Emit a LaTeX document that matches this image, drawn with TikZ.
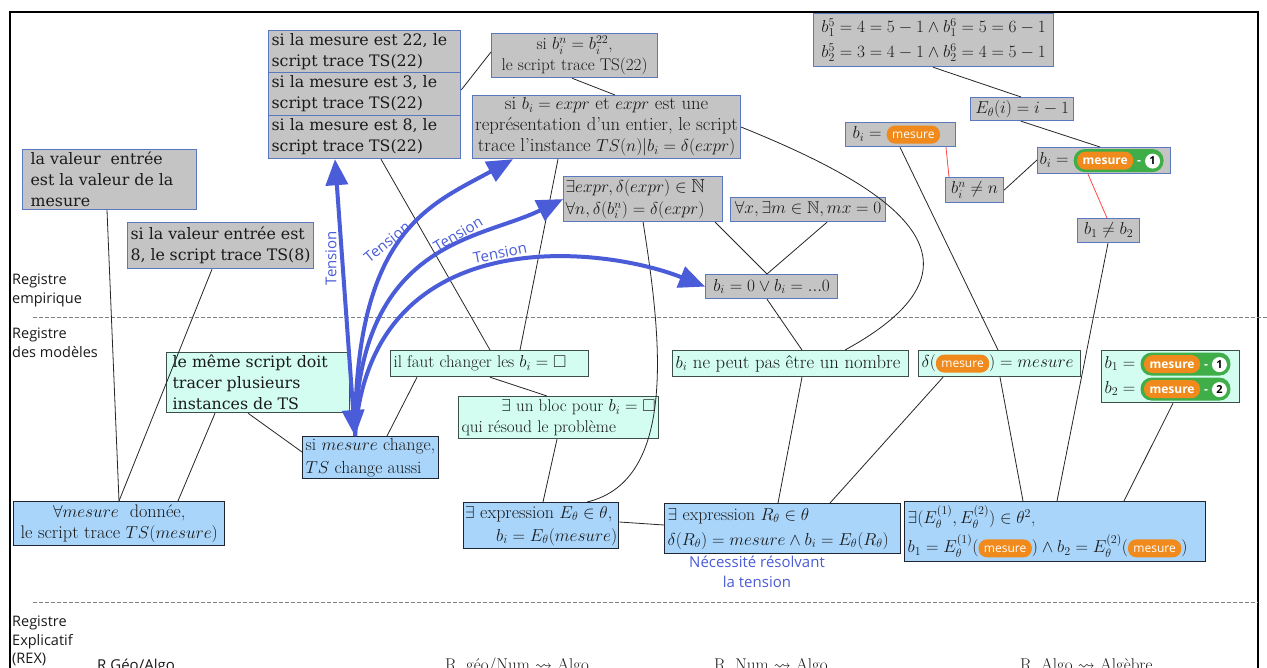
\documentclass[tikz,border=0pt]{standalone}
\usepackage{amsmath,amssymb}
\usepackage{fontspec}
\usetikzlibrary{arrows.meta,calc}
\newfontfamily\dvserif{DejaVu Serif}
\newfontfamily\osans{Open Sans}
\definecolor{greyfill}{HTML}{C4C4C4}
\definecolor{greyborder}{HTML}{5A78C0}
\definecolor{mintfill}{HTML}{D2FDF0}
\definecolor{mintborder}{HTML}{3E4E4A}
\definecolor{bluefill}{HTML}{A9D5FB}
\definecolor{blueborder}{HTML}{1E2530}
\definecolor{tblue}{HTML}{4A5CD8}
\definecolor{pillorange}{HTML}{F08A1C}
\definecolor{pillgreen}{HTML}{3FAE49}
\definecolor{redline}{HTML}{FF4848}
\definecolor{labtext}{HTML}{1A1A1A}
\newcommand\lmtext{\fontsize{17}{21}\selectfont}
\newcommand\lmbig{\fontsize{18.7}{21}\selectfont}
\newcommand\dvtext{\dvserif\fontsize{15.8}{21}\selectfont}
\newcommand\sanslab{\osans\fontsize{14.5}{18.5}\selectfont}
\newcommand\mes{\tikz[baseline=(plnode.base)]\node[fill=pillorange, draw=none, text=white, rounded corners=8.5pt, inner xsep=5.5pt, inner ysep=0pt, minimum height=18pt, minimum width=0pt, text width=, align=center, anchor=base, font=\osans\fontsize{12}{14}\selectfont, text height=8.5pt, text depth=0pt] (plnode) {mesure};}
\newcommand\dig[1]{\tikz[baseline=(dgnode.base)]\node[circle, fill=white, draw=none, text=black, inner sep=0pt, minimum size=15pt, minimum height=15pt, minimum width=15pt, text width=, align=center, anchor=base, rounded corners=0pt, font=\osans\bfseries\fontsize{11}{12}\selectfont, text height=7.5pt, text depth=0pt] (dgnode) {#1};}
\newcommand\mesm[1]{\tikz[baseline=(gpnode.base)]\node[fill=pillgreen, draw=none, rounded corners=11pt, inner xsep=3.5pt, inner ysep=2.5pt, minimum height=0pt, minimum width=0pt, text width=, align=center, anchor=base, text=white, font=\osans\bfseries\fontsize{12}{14}\selectfont] (gpnode) {\mes\hspace{4pt}-\hspace{4pt}\dig{#1}};}
\begin{document}
\begin{tikzpicture}[x=1pt,y=-1pt,
  box/.style={draw, line width=1.2pt, anchor=north west, inner xsep=3pt, inner ysep=1pt, font=\lmtext, text=labtext, align=flush left},
  gbox/.style={box, fill=greyfill, draw=greyborder},
  mbox/.style={box, fill=mintfill, draw=mintborder},
  bbox/.style={box, fill=bluefill, draw=blueborder, line width=1.4pt},
  conn/.style={draw=black!85, line width=0.8pt},
  redconn/.style={draw=redline, line width=0.8pt},
  tarrow/.style={draw=tblue, line width=4pt, -{Triangle[length=26pt,width=22pt]}},
  tarrowboth/.style={draw=tblue, line width=4pt, {Triangle[length=26pt,width=22pt]}-{Triangle[length=26pt,width=22pt]}},
  tlabel/.style={text=tblue, font=\osans\fontsize{15}{17}\selectfont, inner sep=0pt},
  reglabel/.style={anchor=north west, align=flush left, text=labtext, font=\sanslab, inner sep=0pt}
]
\useasboundingbox (0,0) rectangle (1267,667);
\clip (0,0) rectangle (1267,667);
\fill[white] (0,0) rectangle (1267,667);
% frame
\draw[line width=2.6pt, black] (10,700) -- (10,12) -- (1258,12) -- (1258,700);
% register separators
\draw[gray, line width=0.8pt, dash pattern=on 4pt off 2pt] (33,317) -- (1267,317);
\draw[gray, line width=0.8pt, dash pattern=on 4pt off 2pt] (33,602) -- (1258,602);
% register labels
\node[reglabel] (r1) at (12,274) {Registre\\empirique};
\node[reglabel] (r2) at (12,328) {Registre\\des modèles};
\node[reglabel] (r3) at (12,616) {Registre\\Explicatif\\(REX)};
\node[anchor=base west, inner sep=0pt, text=labtext, font=\osans\fontsize{15}{18}\selectfont] (rg1) at (97,670) {R Géo/Algo};
\node[anchor=base west, inner sep=0pt, text=labtext, font=\lmtext] (rg2) at (445,670) {R. géo/Num $\rightsquigarrow$ Algo};
\node[anchor=base west, inner sep=0pt, text=labtext, font=\lmtext] (rg3) at (714,670) {R. Num $\rightsquigarrow$ Algo};
\node[anchor=base west, inner sep=0pt, text=labtext, font=\lmtext] (rg4) at (1020,670) {R. Algo $\rightsquigarrow$ Algèbre};

% ---------- empirical register (grey) ----------
\node[gbox, font=\dvtext, minimum width=192pt, minimum height=43pt, text width=186pt] (G1a) at (268,30) {si la mesure est 22, le\\script trace TS(22)};
\node[gbox, font=\dvtext, minimum width=192pt, minimum height=43pt, text width=186pt] (G1b) at (268,72) {si la mesure est 3, le\\script trace TS(22)};
\node[gbox, font=\dvtext, minimum width=192pt, minimum height=43pt, text width=186pt] (G1c) at (268,115) {si la mesure est 8, le\\script trace TS(22)};
\node[gbox, align=flush center, minimum width=166pt, minimum height=44pt, text width=160pt] (G2) at (491,33) {si $b_i^n=b_i^{22}$,\\le script trace TS(22)};
\node[gbox, align=flush center, font=\lmbig, inner xsep=1.5pt, minimum width=268pt, minimum height=63pt, text width=265pt] (G3) at (472,95) {si $b_i=expr$ et $expr$ est une\\représentation d'un entier, le script\\trace l'instance $TS(n)|b_i=\delta(expr)$};
\node[gbox, font=\dvtext, inner xsep=8pt, minimum width=174pt, minimum height=60pt, text width=158pt] (G4) at (22,149) {la valeur~ entrée\\est la valeur de la\\mesure};
\node[gbox, font=\dvtext, minimum width=186pt, minimum height=46pt, text width=180pt] (G5) at (127,222) {si la valeur entrée est\\8, le script trace TS(8)};
\node[gbox, font=\fontsize{18.7}{22}\selectfont, inner xsep=2pt, minimum width=159pt, minimum height=45pt, text width=155pt] (G6) at (563,176) {$\exists expr, \delta(expr)\in\mathbb{N}$\\$\forall n, \delta(b_i^n)=\delta(expr)$};
\node[gbox, align=flush center, minimum width=155pt, minimum height=24pt, text width=149pt] (G7) at (730,197) {$\forall x, \exists m\in\mathbb{N}, mx=0$};
\node[gbox, align=flush center, minimum width=132pt, minimum height=24pt, text width=126pt] (G8) at (705,274) {$b_i=0\vee b_i=...0$};
\node[gbox, align=flush center, font=\fontsize{17}{25}\selectfont, minimum width=240pt, minimum height=53pt, text width=234pt] (G9) at (813,13) {$b_1^5=4=5-1\wedge b_1^6=5=6-1$\\$b_2^5=3=4-1\wedge b_2^6=4=5-1$};
\node[gbox, align=flush center, minimum width=103pt, minimum height=23pt, text width=97pt] (G10) at (970,97) {$E_\theta(i)=i-1$};
\node[gbox, minimum width=110pt, minimum height=24pt, text width=104pt] (G11) at (845,122) {\hspace*{4pt}$b_i=$ \mes};
\node[gbox, minimum width=133pt, minimum height=26pt, text width=129pt, inner xsep=2pt] (G12) at (1037,147) {$b_i=$ \mesm{1}};
\node[gbox, align=flush center, minimum width=58pt, minimum height=25pt, text width=52pt] (G13) at (945,177) {$b_i^n\neq n$};
\node[gbox, align=flush center, minimum width=62pt, minimum height=24pt, text width=56pt] (G14) at (1077,218) {$b_1\neq b_2$};

% ---------- model register (mint) ----------
\node[mbox, font=\dvtext, inner xsep=6pt, minimum width=183pt, minimum height=60pt, text width=171pt] (M1) at (166,352) {le même script doit\\tracer plusieurs\\instances de TS};
\node[mbox, minimum width=198pt, minimum height=26pt, text width=192pt] (M2) at (390,350) {il faut changer les $b_i=\square$};
\node[mbox, minimum width=200pt, minimum height=42pt, text width=194pt] (M3) at (458,396) {\hfill$\exists$ un bloc pour $b_i=\square$\\qui résoud le problème};
\node[mbox, font=\lmbig, minimum width=236pt, minimum height=26pt, text width=230pt] (M4) at (672,350) {$b_i$ ne peut pas être un nombre};
\node[mbox, minimum width=162pt, minimum height=26pt, text width=156pt] (M5) at (918,350) {$\delta($\mes$)=mesure$};
\node[mbox, font=\fontsize{17}{25}\selectfont, minimum width=138pt, minimum height=52pt, text width=132pt] (M6) at (1101,350) {$b_1=$ \mesm{1}\\$b_2=$ \mesm{2}};

% ---------- explicit register (light blue) ----------
\node[bbox, font=\fontsize{17.5}{23}\selectfont, minimum width=136pt, minimum height=42pt, text width=130pt] (B1) at (302,436) {si $mesure$ change,\\$TS$ change aussi};
\node[bbox, align=flush center, font=\fontsize{18.2}{21}\selectfont, minimum width=211pt, minimum height=44pt, text width=205pt] (B2) at (13,501) {$\forall mesure$~~donnée,\\le script trace $TS(mesure)$};
\node[bbox, font=\fontsize{18}{23}\selectfont, inner xsep=1.5pt, minimum width=155pt, minimum height=46pt, text width=152pt] (B3) at (463,502) {$\exists$ expression $E_\theta\in\theta$,\\\hfill$b_i=E_\theta(mesure)$};
\node[bbox, font=\fontsize{17.7}{25}\selectfont, minimum width=236pt, minimum height=50pt, text width=230pt] (B4) at (664,503) {$\exists$ expression $R_\theta\in\theta$\\$\delta(R_\theta)=mesure\wedge b_i=E_\theta(R_\theta)$};
\node[bbox, font=\fontsize{17.5}{29}\selectfont, minimum width=301pt, minimum height=60pt, text width=295pt] (B5) at (904,501) {$\exists(E_\theta^{(1)},E_\theta^{(2)})\in\theta^2$,\\$b_1=E_\theta^{(1)}($\mes$)\wedge b_2=E_\theta^{(2)}($\mes$)$};
\node[anchor=north, align=flush center, text=tblue, font=\osans\fontsize{15}{20}\selectfont, inner sep=0pt] (nec) at (757,556) {Nécessité résolvant\\la tension};

% ---------- connectors ----------
\draw[conn] ([xshift=85pt]G4.south west) -- ([xshift=106pt]B2.north west);
\draw[conn] ([xshift=85pt]G5.south west) -- ([xshift=106pt]B2.north west);
\draw[conn] ([xshift=49pt]M1.south west) -- ([xshift=165pt]B2.north west);
\draw[conn] ([xshift=82pt]M1.south west) -- ([yshift=-16pt]B1.north west);
\draw[conn] ([xshift=113pt]G1c.south west) -- ([xshift=100pt]M2.north west);
\draw[conn] ([yshift=-19pt]G2.north west) -- ([yshift=-18pt]G1b.north east);
\draw[conn] ([xshift=81pt]G2.south west) -- ([xshift=143pt]G3.north west);
\draw[conn] ([xshift=86pt]G3.south west) -- ([xshift=130pt]M2.north west);
\draw[conn] (G3.east) .. controls (885,185) and (1010,260) .. ([xshift=173pt]M4.north west);
\draw[conn] (G6.south) .. controls (660,330) and (680,480) .. ([xshift=124pt]B3.north west);
\draw[conn] ([xshift=-8pt]G6.south east) -- ([xshift=62pt]G8.north west);
\draw[conn] ([xshift=97pt]G7.south west) -- ([xshift=62pt]G8.north west);
\draw[conn] ([xshift=62pt]G8.south west) -- ([xshift=130pt]M4.north west);
\draw[conn] ([xshift=130pt]M4.south west) -- ([xshift=114pt]B4.north west);
\draw[conn] ([xshift=25pt]M5.south west) -- ([xshift=166pt]B4.north west);
\draw[conn] ([xshift=55pt]G11.south west) -- ([xshift=80pt]M5.north west);
\draw[conn] ([xshift=82pt]M5.south west) -- ([xshift=119pt]B5.north west);
\draw[conn] ([xshift=31pt]G14.south west) -- ([xshift=153pt]B5.north west);
\draw[conn] ([xshift=72pt]M6.south west) -- ([xshift=220pt]B5.north west);
\draw[conn] ([xshift=120pt]G9.south west) -- ([xshift=51pt]G10.north west);
\draw[conn] ([xshift=51pt]G10.south west) -- ([xshift=63pt]G12.north west);
\draw[redconn] ([xshift=101pt]G11.south west) -- ([xshift=4pt]G13.north west);
\draw[conn] ([yshift=-13pt]G13.north east) -- ([yshift=-13pt]G12.north west);
\draw[redconn] ([xshift=51pt]G12.south west) -- ([xshift=30pt]G14.north west);
\draw[conn] ([xshift=27pt]M2.south west) -- ([xshift=85pt]B1.north west);
\draw[conn] ([xshift=100pt]M2.south west) -- ([xshift=89pt]M3.north west);
\draw[conn] ([xshift=99pt]M3.south west) -- ([xshift=80pt]B3.north west);
\draw[conn] ([yshift=-20pt]B3.north east) -- ([yshift=-22pt]B4.north west);

% ---------- tension arrows ----------
\draw[tarrowboth] ([xshift=53pt]B1.north west) -- ([xshift=67pt]G1c.south west);
\draw[tarrow] ([xshift=53pt]B1.north west) .. controls (355,230) and (430,205) .. ([xshift=41pt]G3.south west);
\draw[tarrow] ([xshift=53pt]B1.north west) .. controls (358,240) and (480,240) .. (G6.west);
\draw[tarrow] ([xshift=53pt]B1.north west) .. controls (370,220) and (600,245) .. (G8.west);
\node[tlabel, rotate=90] (t1) at (331,258) {Tension};
\node[tlabel, rotate=39] (t2) at (387,242) {Tension};
\node[tlabel, rotate=31] (t3) at (458,234) {Tension};
\node[tlabel, rotate=11] (t4) at (500,253) {Tension};
\end{tikzpicture}
\end{document}
